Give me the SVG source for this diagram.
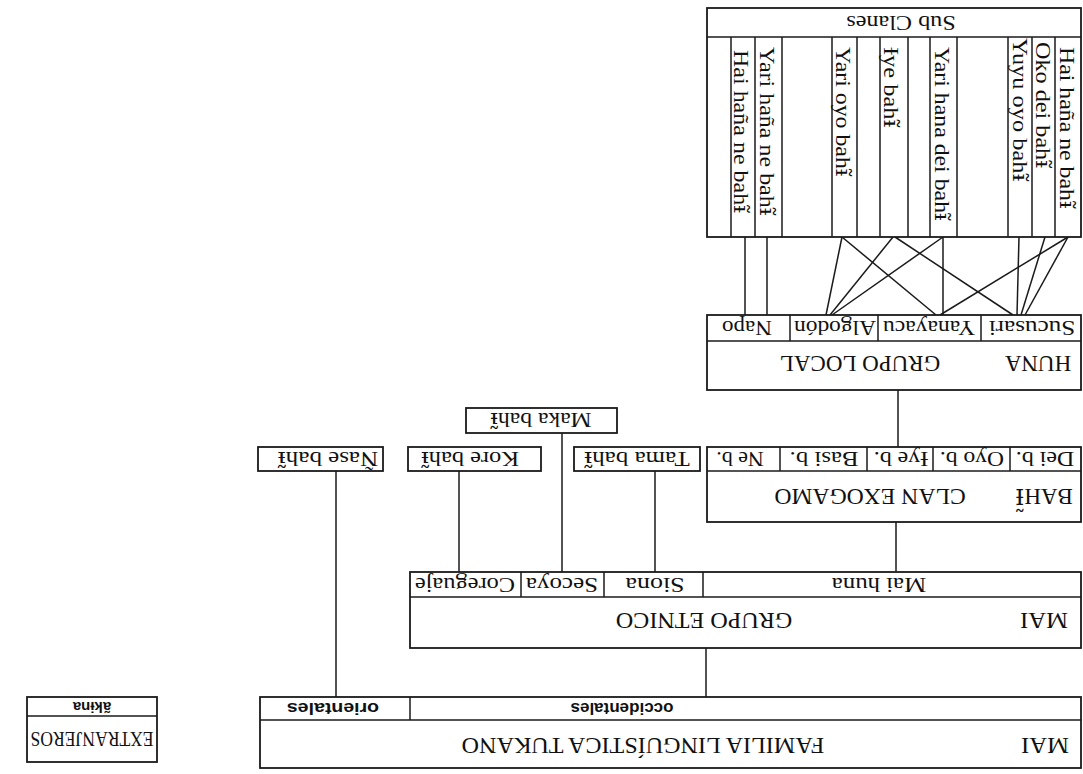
<svg xmlns="http://www.w3.org/2000/svg" width="1083" height="774" viewBox="0 0 1083 774">
<style>
.box{fill:#fff;stroke:#1a1a1a;stroke-width:1.8}
.ln{stroke:#1a1a1a;stroke-width:1.5;fill:none}
.t{font-family:"Liberation Serif","DejaVu Serif",serif;fill:#111}
.s{font-family:"Liberation Sans","DejaVu Sans",sans-serif;fill:#111}
.d{font-family:"DejaVu Serif",serif}
.m{text-anchor:middle}
.v{font-size:20px}
.r{font-size:20px}
.b{font-size:23px}
</style>
<rect width="1083" height="774" fill="#fff"/>

<g id="connectors" class="ln">
<line x1="745" y1="237" x2="745" y2="315"/>
<line x1="767" y1="237" x2="767" y2="315"/>
<line x1="842" y1="237" x2="826" y2="315"/>
<line x1="842" y1="237" x2="936" y2="315"/>
<line x1="893" y1="237" x2="830" y2="315"/>
<line x1="895" y1="237" x2="1013" y2="315"/>
<line x1="943" y1="237" x2="832" y2="315"/>
<line x1="943" y1="237" x2="943" y2="315"/>
<line x1="1019" y1="237" x2="1017" y2="315"/>
<line x1="1045" y1="237" x2="1021" y2="315"/>
<line x1="1068" y1="237" x2="1025" y2="315"/>
<line x1="1068" y1="237" x2="940" y2="315"/>
<line x1="898" y1="390" x2="898" y2="447"/>
<line x1="896" y1="522" x2="896" y2="572"/>
<line x1="655" y1="471" x2="655" y2="572"/>
<line x1="562" y1="433" x2="562" y2="572"/>
<line x1="459" y1="471" x2="459" y2="572"/>
<line x1="336" y1="471" x2="336" y2="697"/>
<line x1="706" y1="648" x2="706" y2="697"/>
</g>

<g id="subclanes">
<rect class="box" x="707" y="8" width="374" height="229"/>
<g class="ln">
<line x1="707" y1="37" x2="1081" y2="37"/>
<line x1="731" y1="37" x2="731" y2="237"/>
<line x1="755" y1="37" x2="755" y2="237"/>
<line x1="782" y1="37" x2="782" y2="237"/>
<line x1="832" y1="37" x2="832" y2="237"/>
<line x1="857" y1="37" x2="857" y2="237"/>
<line x1="880" y1="37" x2="880" y2="237"/>
<line x1="908" y1="37" x2="908" y2="237"/>
<line x1="930" y1="37" x2="930" y2="237"/>
<line x1="957" y1="37" x2="957" y2="237"/>
<line x1="1008" y1="37" x2="1008" y2="237"/>
<line x1="1032" y1="37" x2="1032" y2="237"/>
<line x1="1055" y1="37" x2="1055" y2="237"/>
</g>
<text class="t m" font-size="22" x="0" y="7.3" transform="translate(901 23) rotate(180) scale(1.1 1)">Sub Clanes</text>
<text class="t v" x="0" y="6.6" transform="translate(741 50) rotate(90) scale(1.2 1)">Hai haña ne bah<tspan class="d">ɨ̃</tspan></text>
<text class="t v" x="0" y="6.6" transform="translate(767 47) rotate(90) scale(1.2 1)">Yari haña ne bah<tspan class="d">ɨ̃</tspan></text>
<text class="t v" x="0" y="6.6" transform="translate(843 47) rotate(90) scale(1.19 1)">Yari oyo bah<tspan class="d">ɨ̃</tspan></text>
<text class="t v" x="0" y="6.6" transform="translate(891 47) rotate(90) scale(1.22 1)">Ɨye bah<tspan class="d">ɨ̃</tspan></text>
<text class="t v" x="0" y="6.6" transform="translate(942 47) rotate(90) scale(1.19 1)">Yari hana dei bah<tspan class="d">ɨ̃</tspan></text>
<text class="t v" x="0" y="6.6" transform="translate(1020 38) rotate(90) scale(1.22 1)">Yuyu oyo bah<tspan class="d">ɨ̃</tspan></text>
<text class="t v" x="0" y="6.6" transform="translate(1043 42) rotate(90) scale(1.21 1)">Oko dei bah<tspan class="d">ɨ̃</tspan></text>
<text class="t v" x="0" y="6.6" transform="translate(1067 47) rotate(90) scale(1.19 1)">Hai haña ne bah<tspan class="d">ɨ̃</tspan></text>
</g>

<g id="grupo-local">
<rect class="box" x="707" y="315" width="374" height="75"/>
<g class="ln">
<line x1="707" y1="341" x2="1081" y2="341"/>
<line x1="790" y1="315" x2="790" y2="341"/>
<line x1="878" y1="315" x2="878" y2="341"/>
<line x1="981" y1="315" x2="981" y2="341"/>
</g>
<text class="t m r" x="0" y="6.6" transform="translate(747 328) rotate(180) scale(1.15 1)">Napo</text>
<text class="t m r" x="0" y="6.6" transform="translate(835 328) rotate(180) scale(1.17 1)">Algodón</text>
<text class="t m r" x="0" y="6.6" transform="translate(929 328) rotate(180) scale(1.18 1)">Yanayacu</text>
<text class="t m r" x="0" y="6.6" transform="translate(1032 328) rotate(180) scale(1.26 1)">Sucusari</text>
<text class="t m b" x="0" y="7.6" transform="translate(1038 364) rotate(180)">HUNA</text>
<text class="t m b" x="0" y="7.6" transform="translate(860 364) rotate(180)">GRUPO LOCAL</text>
</g>

<g id="clan-exogamo">
<rect class="box" x="707" y="447" width="374" height="75"/>
<g class="ln">
<line x1="707" y1="471" x2="1081" y2="471"/>
<line x1="780" y1="447" x2="780" y2="471"/>
<line x1="867" y1="447" x2="867" y2="471"/>
<line x1="933" y1="447" x2="933" y2="471"/>
<line x1="1010" y1="447" x2="1010" y2="471"/>
</g>
<text class="t m r" x="0" y="6.6" transform="translate(740 459) rotate(180) scale(1.1 1)">Ne b.</text>
<text class="t m r" x="0" y="6.6" transform="translate(824 459) rotate(180) scale(1.24 1)">Basi b.</text>
<text class="t m r" x="0" y="6.6" transform="translate(901 459) rotate(180) scale(1.2 1)">Ɨye b.</text>
<text class="t m r" x="0" y="6.6" transform="translate(972 459) rotate(180) scale(1.18 1)">Oyo b.</text>
<text class="t m r" x="0" y="6.6" transform="translate(1045 459) rotate(180) scale(1.2 1)">Dei b.</text>
<text class="t m b" x="0" y="7.6" transform="translate(1044 497) rotate(180)">BAH<tspan class="d">Ɨ̃</tspan></text>
<text class="t m b" x="0" y="7.6" transform="translate(870 497) rotate(180) scale(1.03 1)">CLAN EXOGAMO</text>
</g>

<g id="tama">
<rect class="box" x="574" y="447" width="126" height="24"/>
<text class="t m r" x="0" y="6.6" transform="translate(637 459) rotate(180) scale(1.25 1)">Tama bah<tspan class="d">ɨ̃</tspan></text>
</g>
<g id="maka">
<rect class="box" x="466" y="408" width="151" height="25"/>
<text class="t m r" x="0" y="6.6" transform="translate(541 420) rotate(180) scale(1.18 1)">Maka bah<tspan class="d">ɨ̃</tspan></text>
</g>
<g id="kore">
<rect class="box" x="408" y="447" width="133" height="24"/>
<text class="t m r" x="0" y="6.6" transform="translate(470 459) rotate(180) scale(1.22 1)">Kore bah<tspan class="d">ɨ̃</tspan></text>
</g>
<g id="nase">
<rect class="box" x="258" y="447" width="125" height="24"/>
<text class="t m r" x="0" y="6.6" transform="translate(328 459) rotate(180) scale(1.25 1)">Ñase bah<tspan class="d">ɨ̃</tspan></text>
</g>

<g id="grupo-etnico">
<rect class="box" x="410" y="572" width="671" height="76"/>
<g class="ln">
<line x1="410" y1="597" x2="1081" y2="597"/>
<line x1="521" y1="572" x2="521" y2="597"/>
<line x1="604" y1="572" x2="604" y2="597"/>
<line x1="703" y1="572" x2="703" y2="597"/>
</g>
<text class="t m r" x="0" y="6.6" transform="translate(465 585) rotate(180) scale(1.22 1)">Coreguaje</text>
<text class="t m r" x="0" y="6.6" transform="translate(562 585) rotate(180) scale(1.25 1)">Secoya</text>
<text class="t m r" x="0" y="6.6" transform="translate(655 585) rotate(180) scale(1.3 1)">Siona</text>
<text class="t m r" x="0" y="6.6" transform="translate(879 585) rotate(180) scale(1.24 1)">Mai huna</text>
<text class="t m b" x="0" y="7.6" transform="translate(1044 621) rotate(180) scale(1.07 1)">MAI</text>
<text class="t m b" x="0" y="7.6" transform="translate(704 621) rotate(180) scale(1.05 1)">GRUPO ETNICO</text>
</g>

<g id="familia">
<rect class="box" x="260" y="697" width="821" height="71"/>
<g class="ln">
<line x1="260" y1="720" x2="1081" y2="720"/>
<line x1="410" y1="697" x2="410" y2="720"/>
</g>
<text class="s m" font-size="17" font-weight="bold" x="0" y="5.6" transform="translate(333 709) rotate(180) scale(1.15 1)">orientales</text>
<text class="s m" font-size="17" font-weight="bold" x="0" y="5.6" transform="translate(622 709) rotate(180)">occidentales</text>
<text class="t m b" x="0" y="7.6" transform="translate(1045 746) rotate(180) scale(1.07 1)">MAI</text>
<text class="t m b" x="0" y="7.6" transform="translate(643 746) rotate(180) scale(1.05 1)">FAMILIA LINGUÍSTICA TUKANO</text>
</g>

<g id="extranjeros">
<rect class="box" x="27" y="697" width="130" height="65"/>
<line class="ln" x1="27" y1="716" x2="157" y2="716"/>
<text class="s m" font-size="15" font-weight="bold" x="0" y="5" transform="translate(92 707) rotate(180)">ãkɨna</text>
<text class="t m" font-size="20" x="0" y="6.6" transform="translate(92 739) rotate(180) scale(0.88 1)">EXTRANJEROS</text>
</g>
</svg>
